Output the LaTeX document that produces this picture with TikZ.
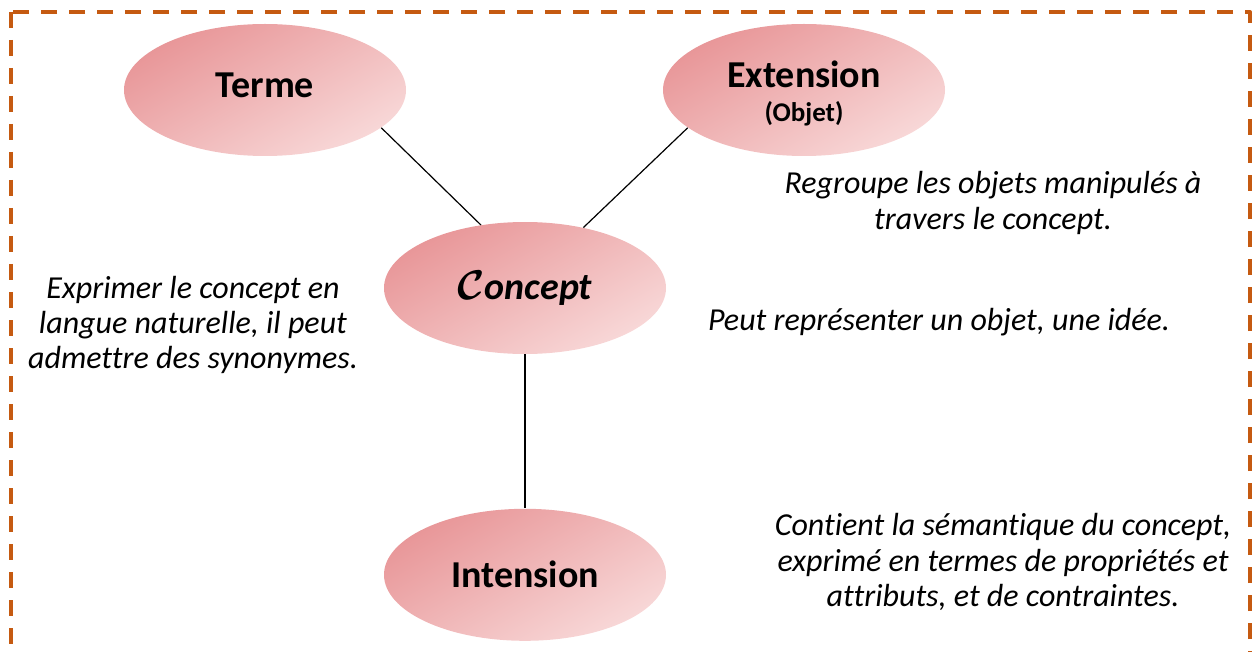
\documentclass[tikz,border=0pt]{standalone}
\usepackage{fontspec}
\setmainfont{Carlito}[Ligatures=NoCommon]
\usetikzlibrary{shapes.geometric,positioning}

\definecolor{frameorange}{RGB}{197,90,17}
\definecolor{pinkdark}{RGB}{232,150,152}
\definecolor{pinklight}{RGB}{248,216,216}

\begin{document}
\begin{tikzpicture}[
    x=0.5pt,
    y=-0.5pt,
    line join=round,
    blob/.style={
        ellipse,
        minimum width=141pt,
        minimum height=66pt,
        inner sep=0pt,
        top color=pinkdark,
        bottom color=pinklight,
        shading angle=30,
        align=center,
        font=\fontsize{19}{18.5}\selectfont\bfseries
    },
    link/.style={draw=black, line width=0.6pt},
    note/.style={font=\fontsize{16}{17.7}\selectfont\itshape, align=center},
    frame/.style={draw=frameorange, line width=2pt, dash pattern=on 8pt off 6pt}
]
\useasboundingbox (0,0) rectangle (1252,652);

% =========================
% Frame
% =========================
\draw[frame] (11,12) rectangle (1250,700);

% =========================
% Nodes
% =========================
\node[blob] (concept) at (525,288) {{\fontsize{22}{22}\selectfont\boldmath$\mathcal{C}$}\textit{oncept}};

\node[blob] (terme) at (265,90) {\raisebox{4.5pt}{Terme}};

\node[blob] (extension) at (804,90) {\raisebox{-15.5pt}{\smash{\begin{tabular}{@{}c@{}}Extension\\[-1.5pt]{\fontsize{13.5}{15}\selectfont(Objet)}\end{tabular}}}};

\node[blob, below=77pt of concept] (intension) {Intension};

% =========================
% Links
% =========================
\draw[link] (terme.-18) -- (concept.125);
\draw[link] (extension.198) -- (concept.46);
\draw[link] (concept.south) -- (intension.north);

% =========================
% Notes
% =========================
\node[note] (noteterme) at (193,325) {Exprimer le concept en\\langue naturelle, il peut\\admettre des synonymes.};
\node[note] (noteextension) at (993,203) {Regroupe les objets manipulés à\\travers le concept.};
\node[note] (noteconcept) at (939,322) {Peut représenter un objet, une idée.};
\node[note] (noteintension) at (1003,562) {Contient la sémantique du concept,\\exprimé en termes de propriétés et\\attributs, et de contraintes.};

\end{tikzpicture}
\end{document}
